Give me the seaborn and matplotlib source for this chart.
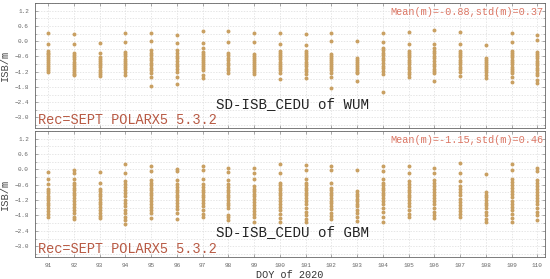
"""SD-ISB at CEDU for WUM and GBM products, DOY 91-110 of 2020."""

import matplotlib
matplotlib.use("Agg")
import matplotlib.pyplot as plt
from matplotlib.ticker import MultipleLocator
import pandas as pd
import seaborn as sns

DAYS = list(range(91, 111))

# ISB values (m) per day
wum_isb = [
    [0.33, -0.10, -0.38, -0.45, -0.52, -0.60, -0.68, -0.75, -0.82, -0.90, -0.98, -1.05, -1.12, -1.20],
    [0.28, -0.13, -0.45, -0.55, -0.63, -0.72, -0.80, -0.88, -0.96, -1.05, -1.13, -1.22, -1.30, -1.35],
    [-0.06, -0.45, -0.61, -0.70, -0.78, -0.86, -0.95, -1.03, -1.12, -1.20, -1.28, -1.36],
    [0.32, -0.05, -0.41, -0.50, -0.60, -0.70, -0.78, -0.86, -0.94, -1.02, -1.10, -1.20, -1.33],
    [0.34, 0.02, -0.35, -0.45, -0.55, -0.65, -0.75, -0.85, -0.95, -1.05, -1.15, -1.25, -1.40, -1.76],
    [0.26, -0.06, -0.35, -0.48, -0.58, -0.68, -0.78, -0.88, -0.98, -1.08, -1.20, -1.40, -1.70],
    [0.39, -0.06, -0.28, -0.42, -0.50, -0.58, -0.66, -0.74, -0.82, -0.90, -0.98, -1.06, -1.14, -1.35, -1.46],
    [0.39, -0.05, -0.45, -0.55, -0.65, -0.75, -0.85, -0.95, -1.05, -1.15, -1.27],
    [0.34, -0.03, -0.50, -0.58, -0.66, -0.74, -0.82, -0.90, -0.98, -1.06, -1.14, -1.22, -1.29],
    [0.32, -0.12, -0.39, -0.48, -0.56, -0.64, -0.72, -0.80, -0.88, -0.96, -1.05, -1.14, -1.24, -1.49],
    [0.27, -0.15, -0.37, -0.45, -0.54, -0.63, -0.72, -0.81, -0.90, -0.99, -1.08, -1.18, -1.30, -1.46],
    [0.32, -0.01, -0.50, -0.58, -0.66, -0.74, -0.82, -0.90, -0.98, -1.06, -1.15, -1.25, -1.40, -1.83],
    [-0.01, -0.65, -0.73, -0.81, -0.89, -0.97, -1.05, -1.13, -1.20, -1.27, -1.57],
    [0.34, -0.02, -0.26, -0.36, -0.46, -0.56, -0.66, -0.76, -0.86, -0.96, -1.06, -1.16, -1.29, -2.00],
    [0.37, -0.10, -0.37, -0.46, -0.55, -0.64, -0.73, -0.82, -0.91, -1.00, -1.10, -1.20, -1.30, -1.40],
    [0.45, -0.12, -0.28, -0.38, -0.48, -0.58, -0.68, -0.78, -0.88, -0.98, -1.08, -1.18, -1.27, -1.58],
    [0.37, -0.11, -0.37, -0.46, -0.55, -0.64, -0.73, -0.82, -0.91, -1.00, -1.10, -1.20, -1.37],
    [-0.15, -0.67, -0.75, -0.83, -0.91, -0.99, -1.07, -1.15, -1.23, -1.32, -1.46],
    [0.32, -0.02, -0.37, -0.46, -0.55, -0.64, -0.73, -0.82, -0.91, -1.00, -1.09, -1.18, -1.27, -1.42, -1.60],
    [0.26, 0.03, -0.41, -0.50, -0.59, -0.68, -0.77, -0.86, -0.95, -1.05, -1.15, -1.25, -1.33, -1.53, -1.66],
]

gbm_isb = [
    [-0.10, -0.39, -0.59, -0.76, -0.85, -0.94, -1.03, -1.12, -1.21, -1.30, -1.40, -1.50, -1.62, -1.75, -1.87],
    [-0.04, -0.13, -0.39, -0.52, -0.62, -0.72, -0.82, -0.92, -1.02, -1.12, -1.22, -1.34, -1.46, -1.58, -1.72, -1.85, -1.95],
    [-0.09, -0.52, -0.76, -0.86, -0.96, -1.06, -1.16, -1.26, -1.36, -1.46, -1.58, -1.70, -1.82, -1.91],
    [0.21, -0.13, -0.46, -0.58, -0.70, -0.82, -0.94, -1.06, -1.18, -1.30, -1.42, -1.58, -1.71, -1.85, -1.98, -2.13],
    [0.11, -0.06, -0.42, -0.52, -0.62, -0.72, -0.82, -0.92, -1.02, -1.12, -1.22, -1.34, -1.46, -1.58, -1.71, -1.91],
    [0.03, -0.06, -0.42, -0.59, -0.70, -0.80, -0.90, -1.00, -1.10, -1.20, -1.30, -1.42, -1.56, -1.71, -1.95],
    [0.13, -0.02, -0.37, -0.59, -0.70, -0.80, -0.90, -1.00, -1.10, -1.20, -1.32, -1.45, -1.60, -1.75, -1.87],
    [0.07, -0.09, -0.42, -0.59, -0.70, -0.80, -0.90, -1.00, -1.10, -1.20, -1.30, -1.40, -1.51, -1.78, -1.88, -1.97],
    [0.05, -0.13, -0.39, -0.66, -0.76, -0.86, -0.96, -1.06, -1.16, -1.26, -1.38, -1.50, -1.62, -1.75, -1.87, -2.04],
    [0.21, -0.13, -0.52, -0.62, -0.72, -0.82, -0.92, -1.02, -1.12, -1.22, -1.34, -1.46, -1.60, -1.75, -1.90, -2.04],
    [0.16, -0.02, -0.37, -0.52, -0.62, -0.72, -0.82, -0.92, -1.02, -1.12, -1.24, -1.36, -1.50, -1.65, -1.80, -1.92, -2.04],
    [0.13, -0.02, -0.52, -0.72, -0.82, -0.92, -1.02, -1.12, -1.22, -1.32, -1.44, -1.56, -1.70, -1.84, -1.95],
    [-0.02, -0.85, -0.95, -1.05, -1.15, -1.25, -1.35, -1.45, -1.58, -1.72, -1.86, -2.00],
    [0.11, -0.06, -0.37, -0.52, -0.62, -0.72, -0.82, -0.92, -1.02, -1.12, -1.24, -1.36, -1.50, -1.66, -1.85, -2.04],
    [0.11, -0.13, -0.46, -0.59, -0.70, -0.80, -0.90, -1.00, -1.10, -1.20, -1.32, -1.45, -1.60, -1.75, -1.87],
    [0.07, -0.13, -0.40, -0.52, -0.64, -0.76, -0.88, -1.00, -1.12, -1.24, -1.36, -1.50, -1.65, -1.80, -1.91],
    [0.24, -0.13, -0.46, -0.66, -0.78, -0.90, -1.02, -1.14, -1.26, -1.38, -1.50, -1.62, -1.75, -1.85],
    [-0.20, -0.90, -1.00, -1.10, -1.20, -1.30, -1.40, -1.50, -1.65, -1.80, -1.92, -2.04],
    [0.19, -0.02, -0.37, -0.50, -0.62, -0.74, -0.86, -0.98, -1.10, -1.22, -1.34, -1.46, -1.60, -1.75, -1.90, -2.04],
    [0.07, -0.06, -0.40, -0.52, -0.64, -0.76, -0.88, -1.00, -1.12, -1.24, -1.36, -1.50, -1.65, -1.80, -1.97],
]

PRODUCTS = ["WUM", "GBM"]
MEAN_STD = [(-0.88, 0.37), (-1.15, 0.46)]
RECEIVER = "Rec=SEPT POLARX5 5.3.2"

DOT = "#c9a062"
MONO = "Liberation Mono"


def to_long(values):
    rows = [(d, v) for d, vals in zip(DAYS, values) for v in vals]
    return pd.DataFrame(rows, columns=["doy", "isb"])


sns.set_style("ticks")
plt.rcParams["font.family"] = [MONO, "DejaVu Sans"]

fig = plt.figure(figsize=(5.5, 2.79), dpi=100)
ax_top = fig.add_axes([0.064, 0.541, 0.927, 0.448])
ax_bot = fig.add_axes([0.064, 0.079, 0.927, 0.452])

for ax, values, name, (mean, std) in zip(
    [ax_top, ax_bot], [wum_isb, gbm_isb], PRODUCTS, MEAN_STD
):
    sns.scatterplot(data=to_long(values), x="doy", y="isb", color=DOT,
                    s=8, linewidth=0, ax=ax, zorder=3)
    ax.set_xlim(90.5, 110.3)
    ax.set_ylim(-3.42, 1.5)
    ax.set_xticks(DAYS)
    ax.yaxis.set_minor_locator(MultipleLocator(0.3))
    ax.set_yticks([1.2, 0.6, 0.0, -0.6, -1.2, -1.8, -2.4, -3.0])
    ax.grid(True, which="both", axis="y", color="#dcdcdc", linestyle=(0, (2, 2)), linewidth=0.5)
    ax.grid(True, which="major", axis="x", color="#dcdcdc", linestyle=(0, (2, 2)), linewidth=0.5)
    ax.tick_params(direction="in", top=True, right=True, length=2.5, width=0.5,
                   labelsize=4.3, labelcolor="#666666", color="#888888", pad=4.5)
    ax.tick_params(which="minor", direction="in", length=1.5, width=0.4,
                   right=True, color="#888888")
    for sp in ax.spines.values():
        sp.set_linewidth(0.6)
        sp.set_color("#666666")
    ax.set_ylabel("ISB/m", fontsize=7.5, color="#444444")
    ax.yaxis.set_label_coords(-0.05, 0.5)
    ax.text(0.996, 0.97, f"Mean(m)={mean:.2f},std(m)={std:.2f}",
            transform=ax.transAxes, ha="right", va="top", fontsize=7.4, color="#db7664")
    ax.text(0.005, 0.01, RECEIVER, transform=ax.transAxes, ha="left", va="bottom",
            fontsize=9.8, color="#b85a44")
    ax.text(0.505, 0.195, f"SD-ISB_CEDU of {name}", transform=ax.transAxes,
            ha="center", va="center", fontsize=10.2, color="#222222")

ax_top.set_xlabel("")
ax_top.tick_params(labelbottom=False)
ax_bot.set_xlabel("DOY of 2020", fontsize=7.3, color="#333333", labelpad=1)

fig.savefig("out.png", dpi=100)
plt.close(fig)
